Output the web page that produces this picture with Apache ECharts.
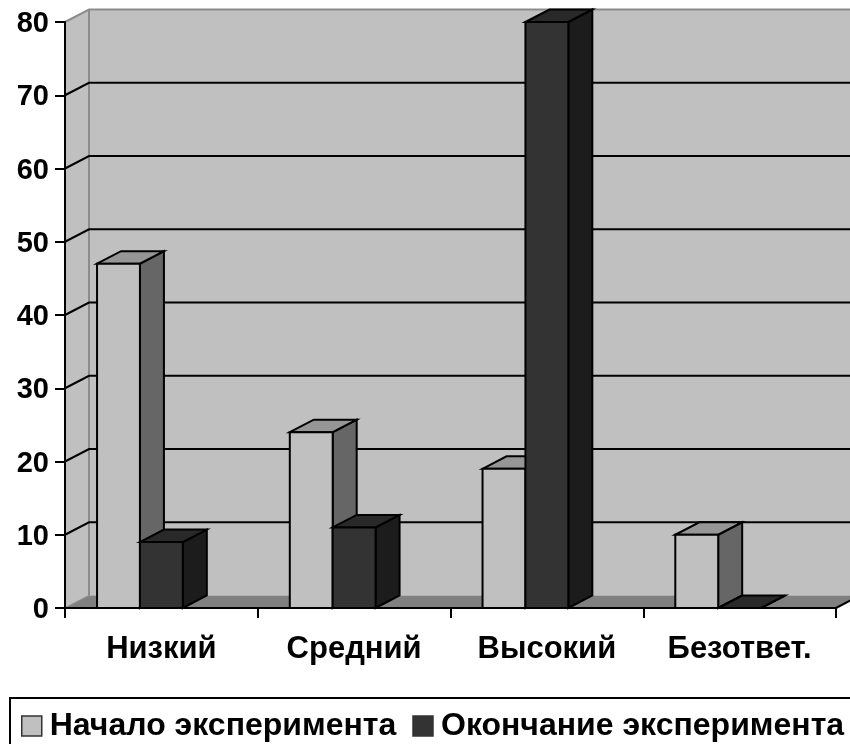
<!DOCTYPE html>
<html><head><meta charset="utf-8">
<style>html,body{margin:0;padding:0;background:#fff;overflow:hidden}#c{width:850px;height:744px}</style>
<script src="https://cdn.jsdelivr.net/npm/echarts@6/dist/echarts.min.js"></script>
</head><body><div id="c"></div>
<script>
const categories = ['Низкий','Средний','Высокий','Безответ.'];
const startValues = [47,24,19,10];
const endValues = [9,11,80,0];
const seriesNames = ['Начало эксперимента','Окончание эксперимента'];
const yTicks = [0,10,20,30,40,50,60,70,80];

const DX = 24, DY = -12.5;
const FONT = '"Liberation Sans", Arial, sans-serif';
const chart = echarts.init(document.getElementById('c'), null, {renderer:'canvas'});

function poly(points, fill, stroke, lw){
  return {type:'polygon', shape:{points}, style:{fill, stroke: stroke||'#000', lineWidth: lw==null?2:lw}};
}
function wallItem(params, api){
  const g = params.coordSys, v = api.value(0);
  const y = api.coord([0,v])[1];
  const L = g.x, R = g.x+g.width;
  const kids = [];
  if (v === 0){
    const top = api.coord([0,80])[1];
    kids.push(poly([[L+DX,top+DY],[R+DX,top+DY],[R+DX,y+DY],[L+DX,y+DY]],'#c0c0c0','none',0));
    kids.push(poly([[L,top],[L+DX,top+DY],[L+DX,y+DY],[L,y]],'#c0c0c0','none',0));
    kids.push(poly([[L,y],[L+DX,y+DY],[R+DX,y+DY],[R,y]],'#808080','none',0));
    kids.push({type:'line',shape:{x1:L+DX,y1:top+DY,x2:L+DX,y2:y+DY},style:{stroke:'#8c8c8c',lineWidth:2}});
    kids.push({type:'line',shape:{x1:L,y1:y,x2:L+DX,y2:y+DY},style:{stroke:'#8c8c8c',lineWidth:1.2}});
    kids.push({type:'line',shape:{x1:R,y1:y,x2:R+DX,y2:y+DY},style:{stroke:'#000',lineWidth:2}});
    return {type:'group',children:kids};
  }
  const col = v === 80 ? '#8c8c8c' : '#000';
  kids.push({type:'polyline',shape:{points:[[L,y],[L+DX,y+DY],[R+DX,y+DY]]},style:{stroke:col,fill:'none',lineWidth:2}});
  return {type:'group',children:kids};
}
function barRenderer(slot, front, top, side){
  return function(params, api){
    const i = api.value(0), v = api.value(1);
    const base = api.coord([i,0]), p = api.coord([i,v]);
    const w = api.size([1,0])[0]*0.2225;
    const x0 = base[0] - w*1.5 + slot*w;
    const x1 = x0 + w, y0 = base[1], y1 = p[1];
    return {type:'group',children:[
      poly([[x1,y1],[x1+DX,y1+DY],[x1+DX,y0+DY],[x1,y0]],side),
      poly([[x0,y1],[x0+DX,y1+DY],[x1+DX,y1+DY],[x1,y1]],top),
      poly([[x0,y1],[x1,y1],[x1,y0],[x0,y0]],front)
    ]};
  };
}
chart.setOption({
  animation:false,
  backgroundColor:'#fff',
  grid:{left:65,right:14,top:22,bottom:136,containLabel:false},
  legend:{
    left:10, top:698, width:900, orient:'horizontal', data:seriesNames, icon:'rect',
    itemWidth:20,itemHeight:20,itemGap:16,
    padding:[12,40,30,11], borderColor:'#000',borderWidth:2,
    selectedMode:false,
    itemStyle:{borderColor:'#333',borderWidth:1.5},
    textStyle:{fontFamily:FONT,fontWeight:'bold',fontSize:32,color:'#000',padding:[0,0,0,3]}
  },
  xAxis:{type:'category',data:categories,z:10,
    axisLine:{show:true,lineStyle:{color:'#000',width:2}},
    axisTick:{show:true,length:10,alignWithLabel:false,lineStyle:{color:'#000',width:2}},
    axisLabel:{fontFamily:FONT,fontWeight:'bold',fontSize:31,color:'#000',margin:26,interval:0},
    splitLine:{show:false}},
  yAxis:{type:'value',min:0,max:80,interval:10,z:10,
    axisLine:{show:true,onZero:false,lineStyle:{color:'#000',width:2}},
    axisTick:{show:true,length:10,lineStyle:{color:'#000',width:2}},
    axisLabel:{margin:16,formatter:'{a|{value}}',
      rich:{a:{fontFamily:FONT,fontWeight:'bold',fontSize:29,color:'#000',padding:[4,0,0,0]}}},
    splitLine:{show:false}},
  series:[
    {type:'custom',name:'wall',z:1,silent:true,coordinateSystem:'cartesian2d',
      data:yTicks.map(v=>[v]),encode:{y:0},renderItem:wallItem},
    {type:'custom',name:seriesNames[0],z:3,itemStyle:{color:'#c0c0c0'},
      data:startValues.map((v,i)=>[i,v]),encode:{x:0,y:1},
      renderItem:barRenderer(0,'#c0c0c0','#969696','#666666')},
    {type:'custom',name:seriesNames[1],z:4,itemStyle:{color:'#333333'},
      data:endValues.map((v,i)=>[i,v]),encode:{x:0,y:1},
      renderItem:barRenderer(1,'#333333','#292929','#1c1c1c')}
  ]
});
</script></body></html>
